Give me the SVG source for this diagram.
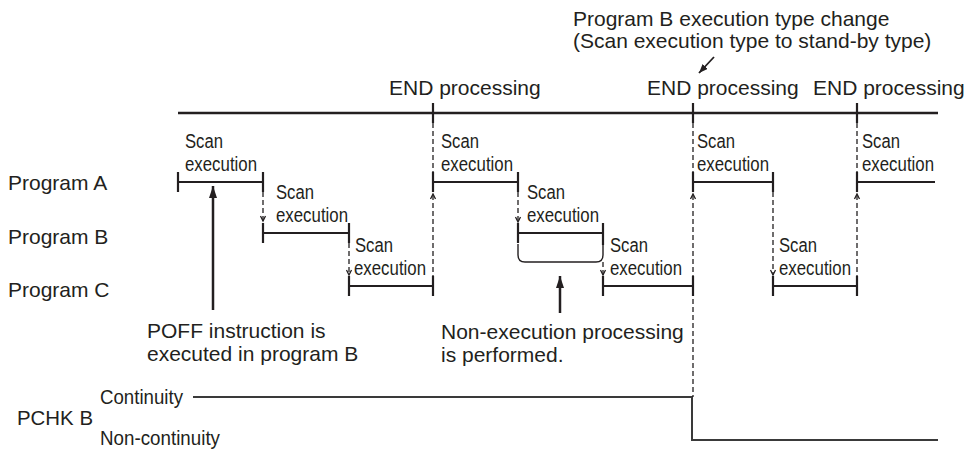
<svg xmlns="http://www.w3.org/2000/svg" xmlns:xlink="http://www.w3.org/1999/xlink" width="974" height="468" viewBox="0 0 974 468">
<style>
.t{font-family:"Liberation Sans",Arial,sans-serif;fill:#231f20}
.big{font-size:21px}
.sm{font-size:20px}
.mid{font-size:21px}
.ln{stroke:#231f20;stroke-width:2.2;fill:none}
.tk{stroke:#231f20;stroke-width:2.2;fill:none}
.ds{stroke:#231f20;stroke-width:1.3;stroke-dasharray:5 3;fill:none}
.cv{stroke:#231f20;stroke-width:1.3;fill:none}
.br{stroke:#231f20;stroke-width:1.4;fill:none}
.pc{stroke:#3a3a3a;stroke-width:2;fill:none}
.ar{stroke:#231f20;stroke-width:2.5;fill:none}
</style>
<defs>
<marker id="triL" viewBox="0 0 12 8" refX="12" refY="4" markerWidth="12" markerHeight="8" markerUnits="userSpaceOnUse" orient="auto"><path d="M0,0 L12,4 L0,8 z" fill="#231f20"/></marker>
<marker id="triS" viewBox="0 0 9 7" refX="9" refY="3.5" markerWidth="9" markerHeight="7" markerUnits="userSpaceOnUse" orient="auto"><path d="M0,0 L9,3.5 L0,7 z" fill="#231f20"/></marker>
<path id="vdn" class="cv" d="M-2.5,-5 L0,0 L2.5,-5"/>
<path id="vup" class="cv" d="M-2.5,5 L0,0 L2.5,5"/>
</defs>

<g id="labels">
<text class="t big" x="573" y="26">Program B execution type change</text>
<text class="t big" x="573" y="48">(Scan execution type to stand-by type)</text>
<text class="t big" x="389" y="95">END processing</text>
<text class="t big" x="647" y="95">END processing</text>
<text class="t big" x="813" y="95">END processing</text>
<text class="t big" x="8" y="190">Program A</text>
<text class="t big" x="8" y="244">Program B</text>
<text class="t big" x="8" y="297">Program C</text>
<text class="t big" x="17" y="425" textLength="76" lengthAdjust="spacingAndGlyphs">PCHK B</text>
<text class="t mid" x="100" y="404" textLength="83" lengthAdjust="spacingAndGlyphs">Continuity</text>
<text class="t mid" x="100" y="445" textLength="120" lengthAdjust="spacingAndGlyphs">Non-continuity</text>
<text class="t big" x="147" y="338">POFF instruction is</text>
<text class="t big" x="147" y="361">executed in program B</text>
<text class="t big" x="441" y="339">Non-execution processing</text>
<text class="t big" x="441" y="362">is performed.</text>
</g>

<g id="scan-labels">
<text class="t sm" x="185" y="148" textLength="38" lengthAdjust="spacingAndGlyphs">Scan</text>
<text class="t sm" x="185" y="171" textLength="72" lengthAdjust="spacingAndGlyphs">execution</text>
<text class="t sm" x="276" y="199" textLength="38" lengthAdjust="spacingAndGlyphs">Scan</text>
<text class="t sm" x="276" y="222" textLength="72" lengthAdjust="spacingAndGlyphs">execution</text>
<text class="t sm" x="355" y="252" textLength="38" lengthAdjust="spacingAndGlyphs">Scan</text>
<text class="t sm" x="354" y="275" textLength="72" lengthAdjust="spacingAndGlyphs">execution</text>
<text class="t sm" x="441" y="148" textLength="38" lengthAdjust="spacingAndGlyphs">Scan</text>
<text class="t sm" x="441" y="171" textLength="72" lengthAdjust="spacingAndGlyphs">execution</text>
<text class="t sm" x="527" y="199" textLength="38" lengthAdjust="spacingAndGlyphs">Scan</text>
<text class="t sm" x="527" y="222" textLength="72" lengthAdjust="spacingAndGlyphs">execution</text>
<text class="t sm" x="610" y="252" textLength="38" lengthAdjust="spacingAndGlyphs">Scan</text>
<text class="t sm" x="610" y="275" textLength="72" lengthAdjust="spacingAndGlyphs">execution</text>
<text class="t sm" x="697" y="148" textLength="38" lengthAdjust="spacingAndGlyphs">Scan</text>
<text class="t sm" x="697" y="171" textLength="72" lengthAdjust="spacingAndGlyphs">execution</text>
<text class="t sm" x="779" y="252" textLength="38" lengthAdjust="spacingAndGlyphs">Scan</text>
<text class="t sm" x="779" y="275" textLength="72" lengthAdjust="spacingAndGlyphs">execution</text>
<text class="t sm" x="862" y="148" textLength="38" lengthAdjust="spacingAndGlyphs">Scan</text>
<text class="t sm" x="862" y="171" textLength="72" lengthAdjust="spacingAndGlyphs">execution</text>
</g>

<g id="timeline">
<line class="ln" x1="178" y1="113" x2="938" y2="113" style="stroke-width:2.5"/>
<path class="tk" d="M433,103 V123 M693,103 V123 M857,103 V123"/>
</g>

<g id="program-a">
<path class="ln" d="M178,182 H263 M433,182 H518 M693,182 H773 M857,182 H935"/>
<path class="tk" d="M178,172 V192 M263,172 V192 M433,172 V192 M518,172 V192 M693,172 V192 M773,172 V192 M857,172 V192"/>
</g>

<g id="program-b">
<path class="ln" d="M263,233 H349 M518,233 H603"/>
<path class="tk" d="M263,223 V243 M349,223 V243 M518,223 V243 M603,223 V245"/>
<path class="br" d="M518,244 V255 Q518,262 525,262 H596 Q603,262 603,255 V244"/>
</g>

<g id="program-c">
<path class="ln" d="M349,286 H433 M603,286 H693 M773,286 H857"/>
<path class="tk" d="M349,276 V296 M433,276 V296 M603,276 V296 M693,276 V296 M773,276 V296 M857,276 V296"/>
</g>

<g id="pchk">
<polyline class="pc" points="193,397 692,397 692,440 938,440"/>
</g>

<g id="connectors">
<path class="ds" d="M263,192 V221 M349,243 V275 M433,123 V296 M518,192 V222 M603,262 V275 M693,123 V397 M773,192 V275 M857,123 V296"/>
<use xlink:href="#vdn" x="263" y="221"/>
<use xlink:href="#vdn" x="349" y="275"/>
<use xlink:href="#vdn" x="518" y="222"/>
<use xlink:href="#vdn" x="603" y="275"/>
<use xlink:href="#vdn" x="773" y="275"/>
<use xlink:href="#vup" x="433" y="194"/>
<use xlink:href="#vup" x="693" y="194"/>
<use xlink:href="#vup" x="857" y="194"/>
<line class="ar" x1="213" y1="310" x2="213" y2="186" marker-end="url(#triL)"/>
<line class="ar" x1="560" y1="313" x2="560" y2="276" marker-end="url(#triL)"/>
<line class="ar" x1="714" y1="57" x2="699" y2="73" style="stroke-width:1.8" marker-end="url(#triS)"/>
</g>
</svg>
